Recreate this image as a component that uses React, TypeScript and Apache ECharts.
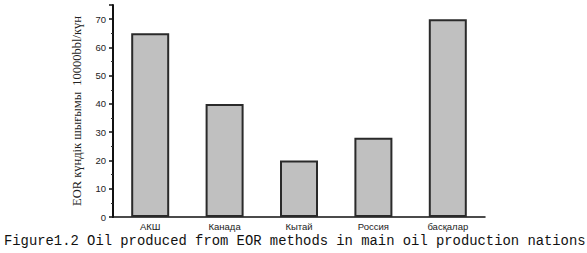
import React, { useEffect, useRef } from "react";
import * as echarts from "echarts";

const categories = ["АКШ", "Канада", "Кытай", "Россия", "басқалар"];
const values = [65, 40, 20, 28, 70];
const yAxisName = "EOR күндік шығымы  10000bbl/күн";
const caption = "Figure1.2 Oil produced from EOR methods in main oil production nations";

export default function App() {
  const ref = useRef<HTMLDivElement>(null);
  useEffect(() => {
    if (!ref.current) return;
    const chart = echarts.init(ref.current, null, { renderer: "svg" });
    chart.setOption({
      animation: false,
      backgroundColor: "#ffffff",
      grid: { left: 113, right: 102, top: 5, bottom: 36 },
      xAxis: {
        type: "category",
        data: categories,
        axisLine: { show: true, lineStyle: { color: "#111", width: 1.5 } },
        axisTick: { show: false },
        axisLabel: {
          margin: 4,
          fontSize: 9.5,
          fontFamily: "Liberation Sans",
          color: "#222",
        },
      },
      yAxis: {
        type: "value",
        min: 0,
        max: 75,
        interval: 10,
        name: yAxisName,
        nameLocation: "middle",
        nameRotate: 90,
        nameGap: 30,
        nameTextStyle: {
          fontFamily: "Liberation Serif",
          fontSize: 12.5,
          color: "#222",
        },
        axisLine: { show: true, lineStyle: { color: "#111", width: 2 } },
        axisTick: { show: true, inside: false, length: 4, lineStyle: { color: "#111", width: 1.5 } },
        minorTick: { show: true, splitNumber: 2, length: 2, lineStyle: { color: "#333", width: 1 } },
        splitLine: { show: false },
        axisLabel: {
          showMaxLabel: false,
          margin: 7,
          fontSize: 9.5,
          fontFamily: "Liberation Sans",
          color: "#222",
        },
      },
      series: [
        {
          type: "bar",
          data: values,
          barWidth: 38,
          itemStyle: { color: "#c0c0c0", borderColor: "#2a2a2a", borderWidth: 2 },
        },
      ],
      graphic: [
        {
          type: "text",
          left: 4,
          top: 234,
          style: {
            text: caption,
            fontFamily: "Liberation Mono",
            fontSize: 13.85,
            fill: "#111",
          },
        },
      ],
    });
    return () => chart.dispose();
  }, []);
  return (
    <div
      ref={ref}
      style={{ position: "fixed", left: 0, top: 0, width: 587, height: 253 }}
    />
  );
}
